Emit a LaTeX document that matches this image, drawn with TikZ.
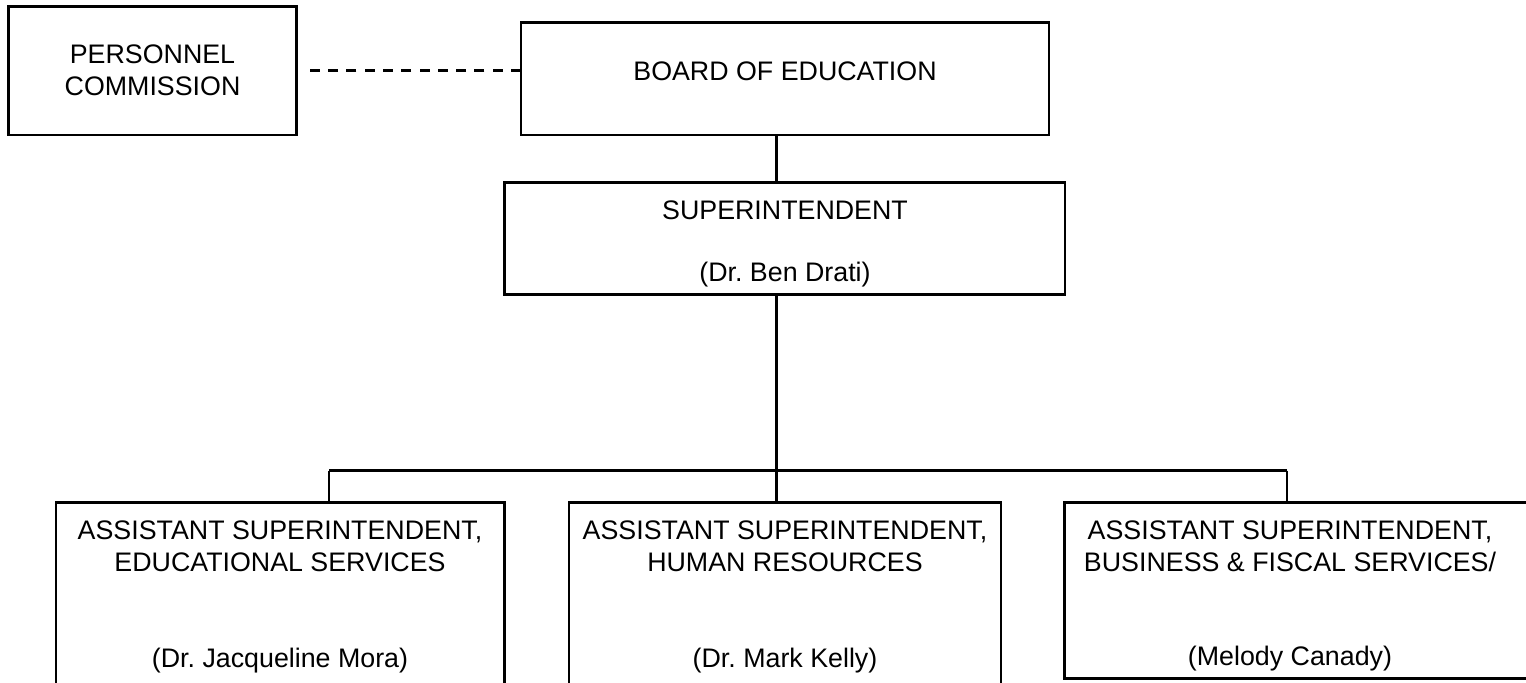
\documentclass[tikz,border=0pt]{standalone}
\usepackage{fontspec}
\setmainfont{Liberation Sans}
\newcommand\pxu{0.5pt}
\frenchspacing
\begin{document}
\begin{tikzpicture}[x=0.5pt,y=-0.5pt,
  box/.style={draw=black, line width=1.25pt, inner sep=0pt, outer sep=0pt, anchor=north west},
  txt/.style={inner sep=0pt, align=center, font=\fontsize{13.4}{16}\selectfont},
  conn/.style={draw=black, line width=1.25pt},
  dashline/.style={draw=black, line width=1.25pt, dash pattern=on 5pt off 4.15pt}]
\useasboundingbox (0,0) rectangle (1526,683);
\clip (0,0) rectangle (1526,683);
% boxes
\node[box, minimum width=287.9*\pxu, minimum height=128.5*\pxu] (pc) at (8.6,6.5) {};
\node[box, minimum width=528*\pxu, minimum height=112.3*\pxu] (board) at (521,22.7) {};
\node[box, minimum width=560.3*\pxu, minimum height=111.8*\pxu] (sup) at (504.7,182.7) {};
\node[box, minimum width=448.5*\pxu, minimum height=230*\pxu] (ed) at (56,502.7) {};
\node[box, minimum width=432*\pxu, minimum height=230*\pxu] (hr) at (569,502.7) {};
\node[box, minimum width=480*\pxu, minimum height=176*\pxu] (bus) at (1064.5,502.7) {};
% texts
\node[txt] (pct) at (152.5,70.5) {PERSONNEL\\COMMISSION};
\node[txt] (boardt) at (785,71) {BOARD OF EDUCATION};
\node[txt] (supt1) at (785,210) {SUPERINTENDENT};
\node[txt] (supt2) at (785,275) {(Dr. Ben Drati)};
\node[txt] (edt1) at (280,546) {ASSISTANT SUPERINTENDENT,\\EDUCATIONAL SERVICES};
\node[txt] (edt2) at (280,661) {(Dr. Jacqueline Mora)};
\node[txt] (hrt1) at (785,546) {ASSISTANT SUPERINTENDENT,\\HUMAN RESOURCES};
\node[txt] (hrt2) at (785,661) {(Dr. Mark Kelly)};
\node[txt] (bust1) at (1290,546) {ASSISTANT SUPERINTENDENT,\\BUSINESS \& FISCAL SERVICES/};
\node[txt] (bust2) at (1290,659) {(Melody Canady)};
% connectors
\coordinate (dashend) at (305,70.7);
\coordinate (v) at (776.7,470.7);
\coordinate (busL) at (329,470.7);
\coordinate (busR) at (1287,470.7);
\draw[dashline] (board.west |- dashend) -- (dashend);
\draw[conn] (board.south -| v) -- (sup.north -| v);
\draw[conn] (sup.south -| v) -- (v);
\draw[conn] (busL) -- (busR);
\draw[conn] (busL) -- (ed.north -| busL);
\draw[conn] (v) -- (hr.north -| v);
\draw[conn] (busR) -- (bus.north -| busR);
\end{tikzpicture}
\end{document}
